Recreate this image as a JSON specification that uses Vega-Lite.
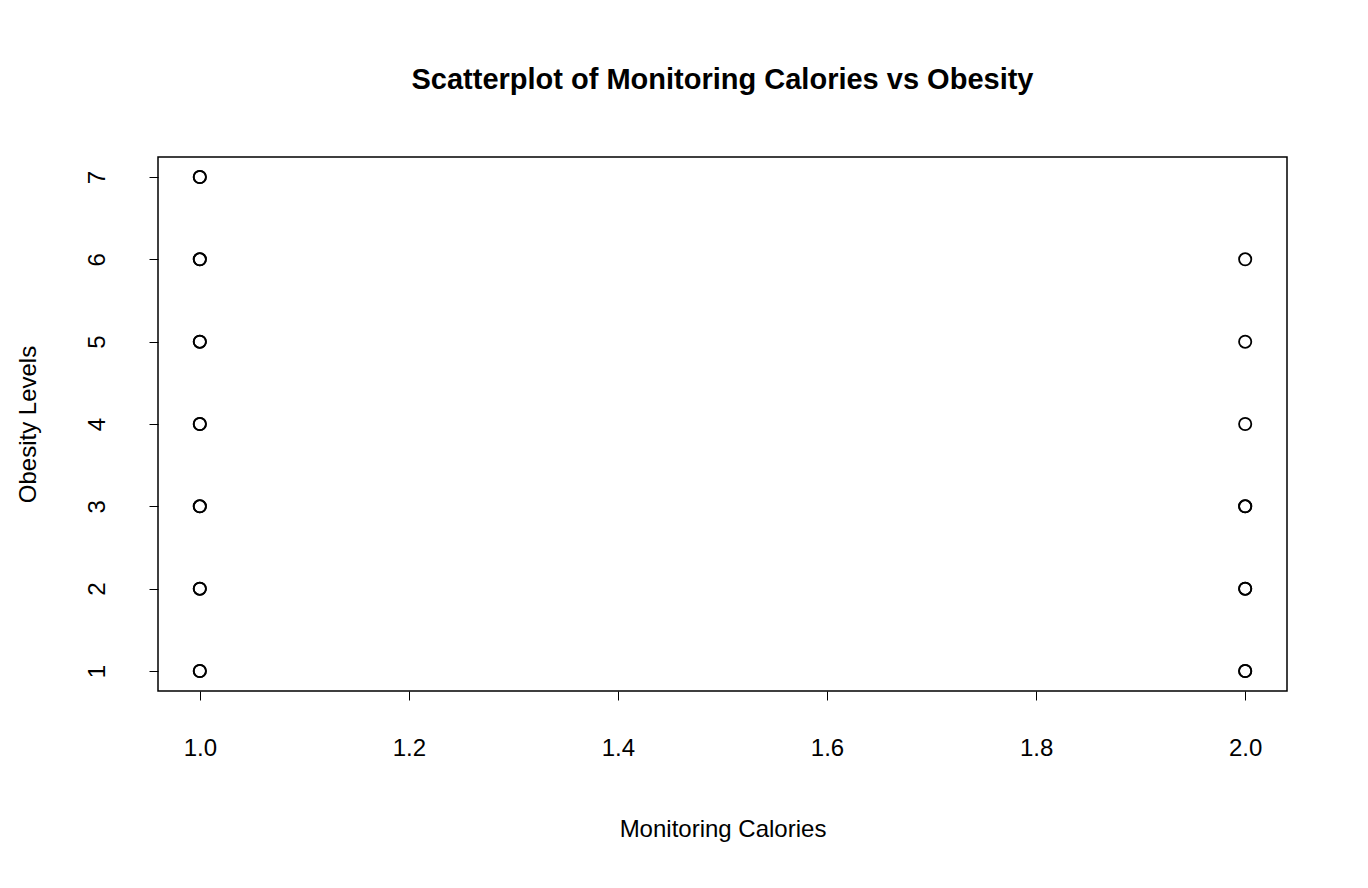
{
"$schema":"https://vega.github.io/schema/vega-lite/v6.json",
"width":1129,"height":534,
"autosize":{"type":"none"},
"padding":{"left":158,"top":157,"right":81,"bottom":197},
"background":"white",
"config":{"font":"Liberation Sans","view":{"stroke":"black","strokeWidth":1.5}},
"title":{"text":"Scatterplot of Monitoring Calories vs Obesity","fontSize":29,"fontWeight":"bold","font":"Liberation Sans","color":"black","offset":62,"anchor":"middle"},
"data":{"values":[
{"x":1,"y":1},{"x":1,"y":1},{"x":1,"y":2},{"x":1,"y":2},{"x":1,"y":3},{"x":1,"y":3},{"x":1,"y":4},{"x":1,"y":4},{"x":1,"y":5},{"x":1,"y":5},{"x":1,"y":6},{"x":1,"y":6},{"x":1,"y":7},{"x":1,"y":7},
{"x":2,"y":1},{"x":2,"y":1},{"x":2,"y":2},{"x":2,"y":2},{"x":2,"y":3},{"x":2,"y":3},{"x":2,"y":4},{"x":2,"y":5},{"x":2,"y":6}
]},
"mark":{"type":"point","shape":"circle","filled":false,"color":"black","size":150,"strokeWidth":1.8,"opacity":1},
"encoding":{
"x":{"field":"x","type":"quantitative","scale":{"domain":[0.96,2.04],"nice":false,"zero":false},
"axis":{"values":[1,1.2,1.4,1.6,1.8,2],"format":".1f","grid":false,"domain":false,"tickColor":"black","tickSize":9,"labelFontSize":24,"labelColor":"black","labelPadding":36,"title":"Monitoring Calories","titleFontSize":24,"titleFontWeight":"normal","titleColor":"black","titlePadding":57}},
"y":{"field":"y","type":"quantitative","scale":{"domain":[0.757,7.243],"nice":false,"zero":false},
"axis":{"values":[1,2,3,4,5,6,7],"grid":false,"domain":false,"tickColor":"black","tickSize":9,"labelFontSize":24,"labelColor":"black","labelAngle":-90,"labelAlign":"center","labelBaseline":"bottom","labelPadding":40,"title":"Obesity Levels","titleFontSize":24,"titleFontWeight":"normal","titleColor":"black","titlePadding":45}}
}
}
